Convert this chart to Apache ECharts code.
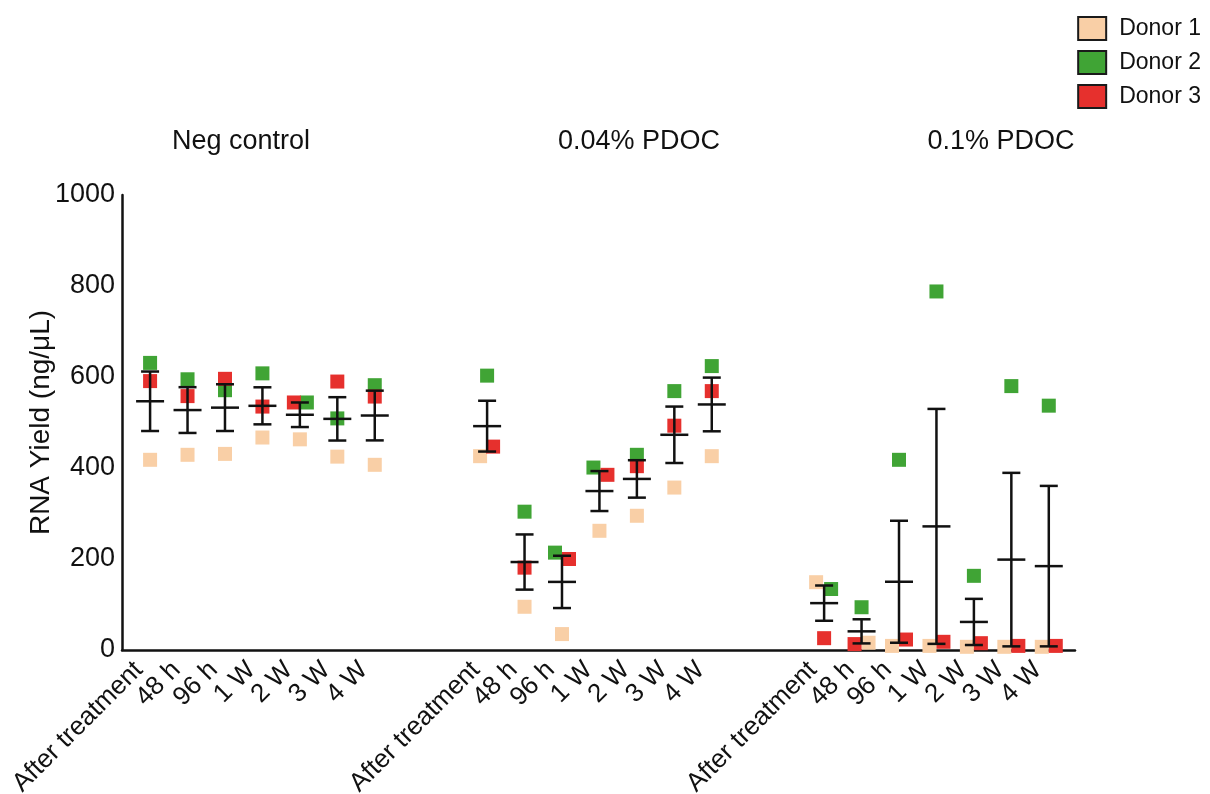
<!DOCTYPE html>
<html>
<head>
<meta charset="utf-8">
<script src="https://cdn.jsdelivr.net/npm/echarts@6/dist/echarts.min.js"></script>
<style>html,body{margin:0;padding:0;background:#fff}#c{width:1210px;height:794px}</style>
</head>
<body>
<div id="c"></div>
<script>
// ---- data ----
const categories = ['After treatment', '48 h', '96 h', '1 W', '2 W', '3 W', '4 W'];
const groups = ['Neg control', '0.04% PDOC', '0.1% PDOC'];
const donorNames = ['Donor 1', 'Donor 2', 'Donor 3'];
const yTicks = [0, 200, 400, 600, 800, 1000];
// values per group, in category order (Neg control, 0.04% PDOC, 0.1% PDOC)
const donor1 = [418, 429, 431, 467, 463, 425, 407,   426, 95, 35, 262, 295, 357, 426,   149, 16, 9, 9, 7, 7, 7];
const donor2 = [631, 595, 571, 608, 544, 509, 582,   603, 304, 214, 401, 429, 569, 624,   134, 94, 418, 788, 163, 580, 537];
const donor3 = [591, 558, 596, 535, 544, 590, 557,   447, 181, 200, 385, 404, 493, 569,   26, 13, 23, 18, 15, 9, 9];

// ---- styling (marker jitter in px) ----
const jitter1 = [0,0,0,0,0,0,0,  -7,0,0,0,0,0,0,  -8,7,-7,-7,-7,-7,-7];
const jitter2 = [0,0,0,0,7,0,0,   0,0,-7,-6,0,0,0,  7,0,0,0,0,0,0];
const jitter3 = [0,0,0,0,-6,0,0,  6,0,7,8,0,0,0,   0,-7,7,7,7,7,7];
const colors = ['#f9cfa6', '#40a435', '#e6302d'];
const FONT = 'Liberation Sans, Arial, sans-serif';

const GAP = 2; // empty slots between groups
const xs = [];
const xLabelMap = {};
groups.forEach((g, gi) => categories.forEach((c, ci) => {
  const x = gi * (categories.length + GAP) + ci;
  xs.push(x); xLabelMap[x] = c;
}));

const donors = [donor1, donor2, donor3];
const jitters = [jitter1, jitter2, jitter3];

const errData = xs.map((x, k) => {
  const v = donors.map(d => d[k]);
  const n = v.length;
  const mean = v.reduce((a, b) => a + b, 0) / n;
  const sd = Math.sqrt(v.reduce((a, b) => a + (b - mean) * (b - mean), 0) / (n - 1));
  const sem = sd / Math.sqrt(n);
  return [x, mean - sem, mean + sem, mean];
});

const chart = echarts.init(document.getElementById('c'), null, { renderer: 'canvas' });

const scatterSeries = donors.map((d, di) => ({
  name: donorNames[di],
  type: 'scatter',
  symbol: 'rect',
  symbolSize: 14,
  z: 3,
  itemStyle: { color: colors[di], opacity: 1 },
  data: xs.map((x, k) => ({ value: [x, d[k]], symbolOffset: [jitters[di][k], 0] }))
}));

const groupCenters = [236, 634, 996];
const X_MIN = -0.75, X_MAX = 24.7, LABEL_SHIFT = 0.3;

chart.setOption({
  animation: false,
  textStyle: { fontFamily: FONT },
  title: groups.map((g, i) => ({
    text: g, left: groupCenters[i], top: 123, textAlign: 'center',
    textStyle: { fontFamily: FONT, fontSize: 27, fontWeight: 'normal', color: '#111' }
  })),
  legend: {
    orient: 'vertical', right: 4, top: 11,
    icon: 'rect', itemWidth: 28, itemHeight: 23, itemGap: 9,
    itemStyle: { borderColor: '#1a1a1a', borderWidth: 2 },
    textStyle: { fontFamily: FONT, fontSize: 23, color: '#111', padding: [0, 0, 0, 8] },
    data: donorNames
  },
  grid: { left: 122, right: 135, top: 195, bottom: 144, containLabel: false, outerBoundsMode: 'none' },
  xAxis: [{
    type: 'value', min: X_MIN, max: X_MAX,
    splitLine: { show: false },
    axisLine: { show: true, onZero: false, lineStyle: { color: '#111', width: 2.5 } },
    axisTick: { show: false },
    axisLabel: { show: false }
  }, {
    type: 'value', min: X_MIN + LABEL_SHIFT, max: X_MAX + LABEL_SHIFT, position: 'bottom',
    splitLine: { show: false },
    axisLine: { show: false },
    axisTick: { show: false },
    axisLabel: {
      customValues: xs,
      rotate: 45, margin: 16,
      fontFamily: FONT, fontSize: 26, color: '#111',
      formatter: v => xLabelMap[Math.round(v)] || ''
    }
  }],
  yAxis: {
    type: 'value', min: 0, max: 1000, interval: 200,
    name: 'RNA Yield (ng/\u03bcL)', nameLocation: 'middle', nameGap: 67, nameMoveOverlap: false,
    nameTextStyle: { fontFamily: FONT, fontSize: 28, color: '#111' },
    splitLine: { show: false },
    axisLine: { show: true, onZero: false, lineStyle: { color: '#111', width: 2.5 } },
    axisTick: { show: false },
    axisLabel: {
      customValues: yTicks, margin: 7,
      fontFamily: FONT, fontSize: 27, color: '#111',
      formatter: v => String(v)
    }
  },
  series: [
    ...scatterSeries,
    {
      type: 'custom', name: 'err', z: 4, silent: true,
      data: errData,
      renderItem: (params, api) => {
        const x = api.value(0);
        const lo = api.coord([x, api.value(1)]);
        const hi = api.coord([x, api.value(2)]);
        const m = api.coord([x, api.value(3)]);
        const cap = 9, mw = 14;
        const st = { stroke: '#111', lineWidth: 2.5 };
        return {
          type: 'group',
          children: [
            { type: 'line', shape: { x1: lo[0], y1: lo[1], x2: hi[0], y2: hi[1] }, style: st },
            { type: 'line', shape: { x1: lo[0] - cap, y1: lo[1], x2: lo[0] + cap, y2: lo[1] }, style: st },
            { type: 'line', shape: { x1: hi[0] - cap, y1: hi[1], x2: hi[0] + cap, y2: hi[1] }, style: st },
            { type: 'line', shape: { x1: m[0] - mw, y1: m[1], x2: m[0] + mw, y2: m[1] }, style: st }
          ]
        };
      }
    }
  ]
});
</script>
</body>
</html>
